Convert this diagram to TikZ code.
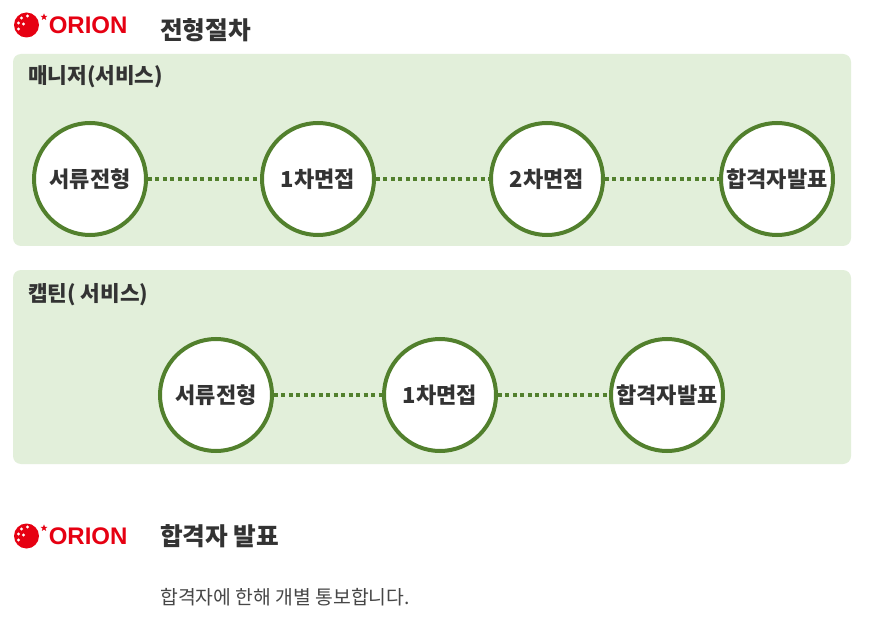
\documentclass[tikz,border=0pt]{standalone}
\usepackage{fontspec}
\newfontfamily\kr{Noto Sans CJK KR}
\newfontfamily\logofont{Liberation Sans}
\usetikzlibrary{positioning, shapes.geometric}
\definecolor{leaf}{HTML}{52802D}
\definecolor{panelbg}{HTML}{E2EFDA}
\definecolor{ink}{HTML}{333333}
\definecolor{orionred}{HTML}{E60012}
\tikzset{
  panel/.style={fill=panelbg, rounded corners=6pt},
  stage/.style={circle, draw=leaf, line width=3pt, fill=white, minimum size=84pt,
    inner sep=0pt, text=ink, font=\kr\bfseries\fontsize{16.5}{19}\selectfont},
  link/.style={leaf, line width=2.6pt, dash pattern=on 3pt off 2.6pt},
  heading/.style={anchor=west, inner sep=0pt, text=ink, font=\kr\bfseries\fontsize{18.5}{22}\selectfont},
  sublabel/.style={anchor=west, inner sep=0pt, text=ink, font=\kr\bfseries\fontsize{16}{19}\selectfont}
}

\begin{document}
\begin{tikzpicture}[x=0.75pt, y=-0.75pt]
\useasboundingbox[fill=white] (0,0) rectangle (882,631);

% logos
\foreach \ly in {25,536}{
  \fill[orionred] (26.5,\ly) circle (12.5);
  \foreach \dx/\dy in {-8/-2, -5/-7, 1/-9, -3/-1, -8/4}
    \fill[white] (26.5+\dx,\ly+\dy) circle (1.6);
  \node[star, star points=5, star point ratio=2.4, fill=orionred, inner sep=0pt,
    minimum size=5.5pt] at (44,\ly-8) {};
  \node[anchor=west, inner sep=0pt, text=orionred,
    font=\logofont\bfseries\fontsize{18}{21}\selectfont] at (48.5,\ly) {ORION};
}

% section titles
\node[heading] (title1) at (160,30) {전형절차};
\node[heading] (title2) at (160,536) {합격자 발표};

% manager track
\fill[panel] (13,54) rectangle (851,246);
\node[sublabel] (mgr) at (28,77) {매니저(서비스)};
\node[stage] (m1) at (90,179) {서류전형};
\node[stage] (m2) at (318,179) {1차면접};
\node[stage] (m3) at (547,179) {2차면접};
\node[stage] (m4) at (777,179) {합격자발표};
\draw[link] (m1) -- (m2);
\draw[link] (m2) -- (m3);
\draw[link] (m3) -- (m4);

% captain track
\fill[panel] (13,270) rectangle (851,464);
\node[sublabel] (cpt) at (28,295) {캡틴( 서비스)};
\node[stage] (c1) at (216,395) {서류전형};
\node[stage] (c2) at (440,395) {1차면접};
\node[stage] (c3) at (667,395) {합격자발표};
\draw[link] (c1) -- (c2);
\draw[link] (c2) -- (c3);

\node[anchor=west, inner sep=0pt, text=ink!90, font=\kr\fontsize{14.5}{17}\selectfont]
  (notice) at (160,597) {합격자에 한해 개별 통보합니다.};
\end{tikzpicture}
\end{document}
